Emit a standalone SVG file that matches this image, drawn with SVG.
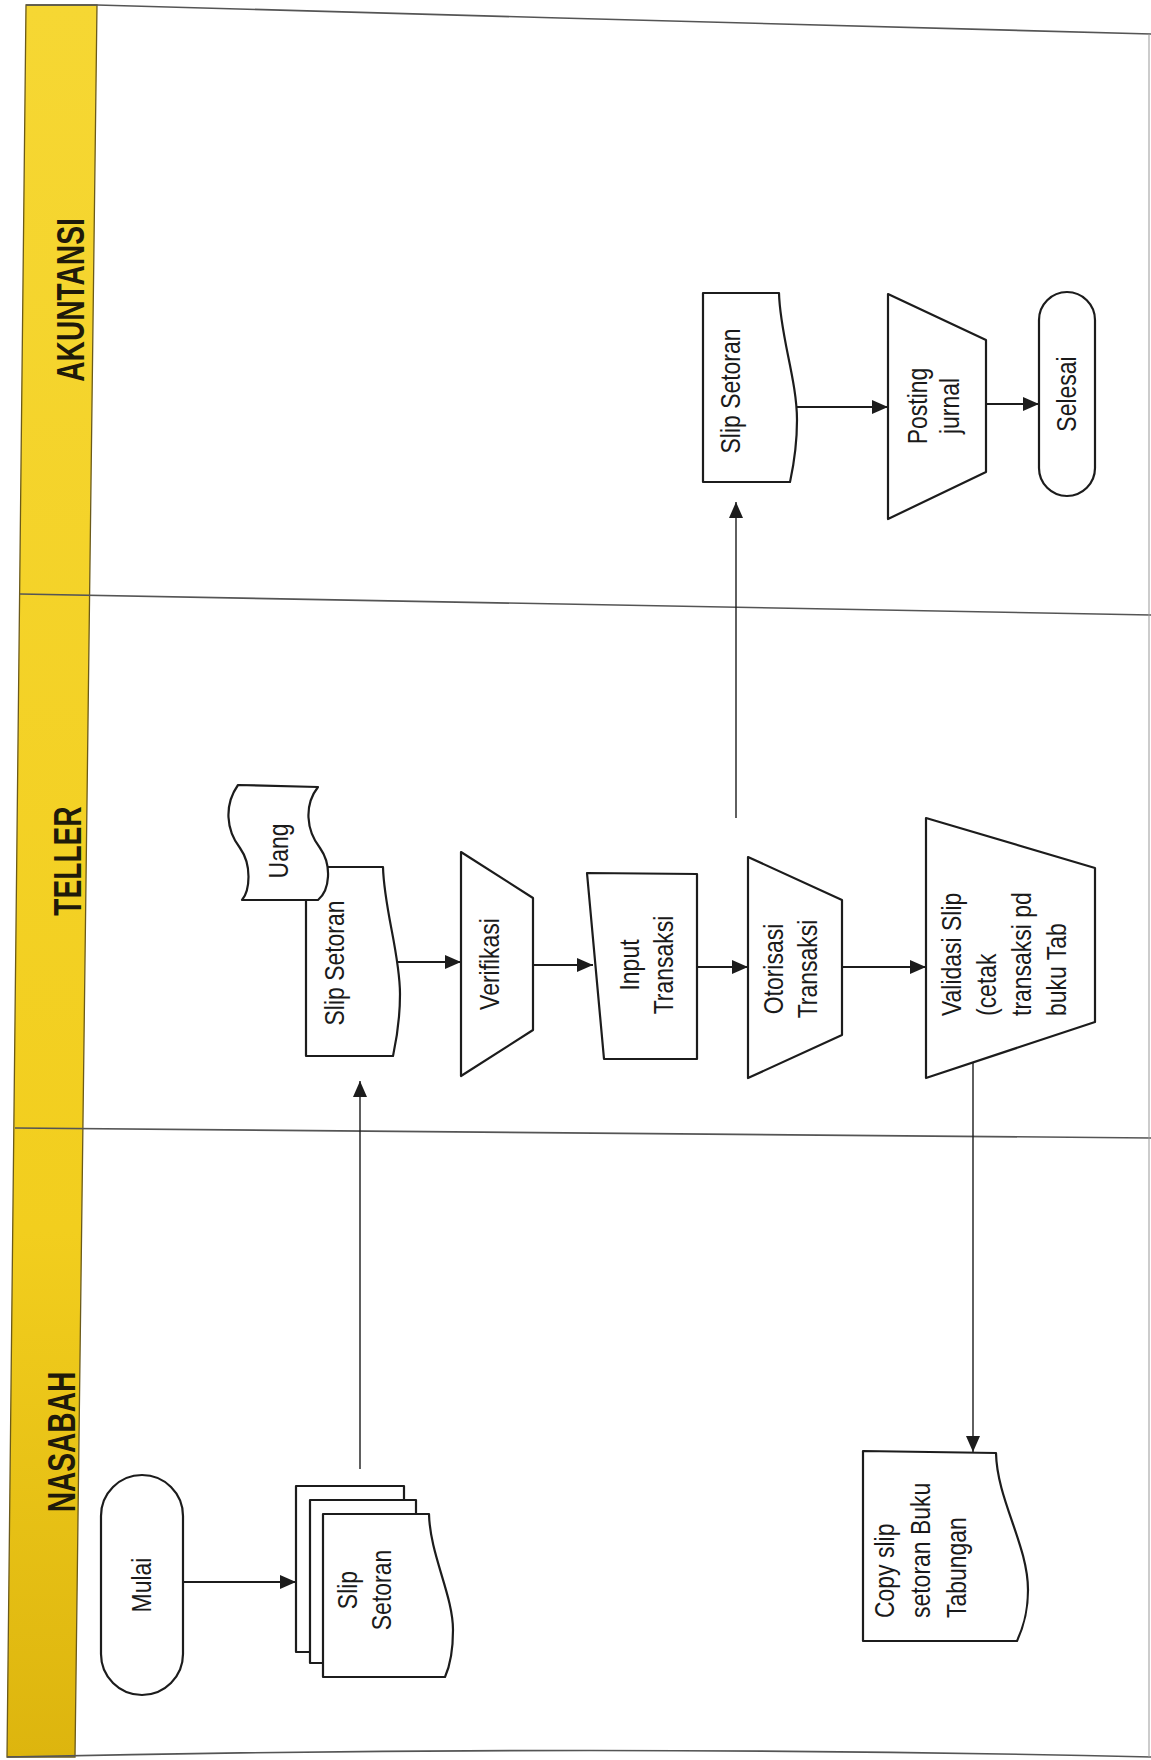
<svg xmlns="http://www.w3.org/2000/svg" width="1151" height="1760" viewBox="0 0 1151 1760">
<defs>
<linearGradient id="yel" x1="0" y1="0" x2="0" y2="1">
<stop offset="0" stop-color="#F6D733"/>
<stop offset="0.7" stop-color="#F2CE1E"/>
<stop offset="1" stop-color="#DDB50E"/>
</linearGradient>
<marker id="ah" markerUnits="userSpaceOnUse" markerWidth="16" markerHeight="14" refX="16" refY="7" orient="auto">
<path d="M0,0 L16,7 L0,14 Z" fill="#1c1c1c"/>
</marker>
<style>
.shape{fill:#fff;stroke:#1c1c1c;stroke-width:2.2;stroke-linejoin:round}
.conn{fill:none;stroke:#1c1c1c;stroke-width:1.8;marker-end:url(#ah)}
.thin{stroke-width:1.4}
.lane{fill:none;stroke:#555;stroke-width:1.6}
.lbl{font-family:"Liberation Sans",Arial,sans-serif;font-size:28px;fill:#1a1a1a}
.hdr{font-family:"Liberation Sans",Arial,sans-serif;font-size:38px;font-weight:bold;fill:#1f1a0a}
</style>
</defs>
<rect width="1151" height="1760" fill="#fff"/>

<g id="lanes">
<polygon points="26,5 97,5 75,1757 7,1757" fill="url(#yel)" stroke="#6b5a1a" stroke-width="1.3"/>
<polyline class="lane" points="26,5 97,5 560,18 1151,34"/>
<path class="lane" d="M7,1757 Q600,1744 1151,1757"/>
<line class="lane" x1="20" y1="594" x2="1151" y2="615"/>
<line class="lane" x1="15" y1="1128" x2="1151" y2="1138"/>
<line x1="1149" y1="34" x2="1149" y2="1757" stroke="#999" stroke-width="1"/>
<text class="hdr" text-anchor="middle" transform="translate(70,300) rotate(-90) scale(0.74,1)" y="14">AKUNTANSI</text>
<text class="hdr" text-anchor="middle" transform="translate(67,861) rotate(-90) scale(0.74,1)" y="14">TELLER</text>
<text class="hdr" text-anchor="middle" transform="translate(61,1442) rotate(-90) scale(0.74,1)" y="14">NASABAH</text>
</g>

<g id="connectors">
<path class="conn" d="M183,1582 L296,1582"/>
<path class="conn thin" d="M360,1469 L360,1081"/>
<path class="conn" d="M388,962 L461,962"/>
<path class="conn" d="M533,965 L593,965"/>
<path class="conn" d="M697,967 L748,967"/>
<path class="conn" d="M842,967 L926,967"/>
<path class="conn thin" d="M973,1062 L973,1452"/>
<path class="conn thin" d="M736,818 L736,502"/>
<path class="conn" d="M796,407 L888,407"/>
<path class="conn" d="M986,404 L1039,404"/>
</g>

<g id="mulai">
<rect class="shape" x="101" y="1475" width="82" height="220" rx="41"/>
<text class="lbl" text-anchor="middle" transform="translate(142,1585) rotate(-90) scale(0.82,1)" y="9">Mulai</text>
</g>

<g id="slip-nasabah">
<rect class="shape" x="296" y="1486" width="108" height="166"/>
<rect class="shape" x="310" y="1500" width="106" height="163"/>
<path class="shape" d="M323,1514 L429,1514 C430,1555 453,1595 453,1630 C453,1655 449,1668 445,1677 L323,1677 Z"/>
<text class="lbl" text-anchor="middle" transform="translate(365,1590) rotate(-90) scale(0.82,1)"><tspan x="0" y="-8.5">Slip</tspan><tspan x="0" y="26.5">Setoran</tspan></text>
</g>

<g id="slip-teller">
<path class="shape" d="M306,867 L383,867 C384,909 400,954 400,994 C400,1024 396,1042 393,1056 L306,1056 Z"/>
<text class="lbl" text-anchor="middle" transform="translate(335,963) rotate(-90) scale(0.82,1)" y="9">Slip Setoran</text>
</g>

<g id="uang">
<path class="shape" d="M238,785 L318,787 C304,805 306,830 320,848 C332,865 330,890 318,900 L242,900 C250,890 252,865 240,848 C226,830 224,805 238,785 Z"/>
<text class="lbl" text-anchor="middle" transform="translate(279,851) rotate(-90) scale(0.82,1)" y="9">Uang</text>
</g>

<g id="verifikasi">
<polygon class="shape" points="461,852 533,898 533,1030 461,1076"/>
<text class="lbl" text-anchor="middle" transform="translate(490,964) rotate(-90) scale(0.82,1)" y="9">Verifikasi</text>
</g>

<g id="input-transaksi">
<polygon class="shape" points="587,873 697,874 697,1059 604,1059"/>
<text class="lbl" text-anchor="middle" transform="translate(647,965) rotate(-90) scale(0.82,1)"><tspan x="0" y="-8.5">Input</tspan><tspan x="0" y="26.5">Transaksi</tspan></text>
</g>

<g id="otorisasi">
<polygon class="shape" points="748,857 842,900 842,1035 748,1078"/>
<text class="lbl" text-anchor="middle" transform="translate(791,969) rotate(-90) scale(0.82,1)"><tspan x="0" y="-8.5">Otorisasi</tspan><tspan x="0" y="26.5">Transaksi</tspan></text>
</g>

<g id="validasi">
<polygon class="shape" points="926,818 1095,868 1095,1022 926,1078"/>
<text class="lbl" text-anchor="start" transform="translate(961,1016) rotate(-90) scale(0.82,1)"><tspan x="0" y="0">Validasi Slip</tspan><tspan x="0" y="35">(cetak</tspan><tspan x="0" y="70">transaksi pd</tspan><tspan x="0" y="105">buku Tab</tspan></text>
</g>

<g id="copy-slip">
<path class="shape" d="M863,1451 L996,1453 C997,1500 1028,1545 1028,1590 C1028,1615 1022,1630 1017,1641 L863,1641 Z"/>
<text class="lbl" text-anchor="start" transform="translate(894,1618) rotate(-90) scale(0.82,1)"><tspan x="0" y="0">Copy slip</tspan><tspan x="0" y="36">setoran Buku</tspan><tspan x="0" y="72">Tabungan</tspan></text>
</g>

<g id="slip-akuntansi">
<path class="shape" d="M703,293 L779,293 C780,335 797,380 797,420 C797,450 793,468 790,482 L703,482 Z"/>
<text class="lbl" text-anchor="middle" transform="translate(731,391) rotate(-90) scale(0.82,1)" y="9">Slip Setoran</text>
</g>

<g id="posting-jurnal">
<polygon class="shape" points="888,294 986,340 986,472 888,519"/>
<text class="lbl" text-anchor="middle" transform="translate(934,406) rotate(-90) scale(0.82,1)"><tspan x="0" y="-7">Posting</tspan><tspan x="0" y="25">jurnal</tspan></text>
</g>

<g id="selesai">
<rect class="shape" x="1039" y="292" width="56" height="204" rx="28"/>
<text class="lbl" text-anchor="middle" transform="translate(1067,394) rotate(-90) scale(0.82,1)" y="9">Selesai</text>
</g>
</svg>
